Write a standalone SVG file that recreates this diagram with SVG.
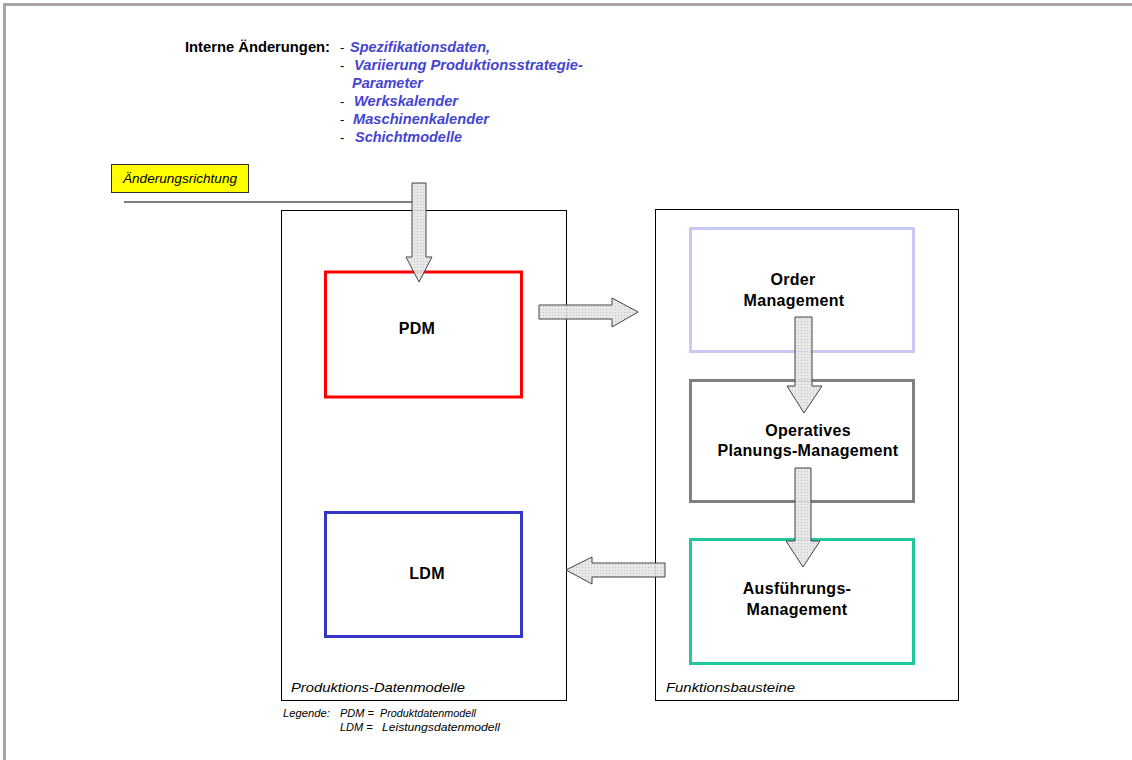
<svg xmlns="http://www.w3.org/2000/svg" width="1132" height="760" viewBox="0 0 1132 760">
<defs>
<pattern id="dots" width="3" height="3" patternUnits="userSpaceOnUse">
<rect width="3" height="3" fill="#e6e6e6"/>
<rect width="1" height="1" fill="#bcbcbc"/>
</pattern>
<style>
text{font-family:"Liberation Sans",Arial,sans-serif;}
.lbl{font-size:16px;font-weight:bold;fill:#000;text-anchor:middle;letter-spacing:0.3px;}
.it{font-style:italic;fill:#000;}
.blue{font-size:14px;font-weight:bold;font-style:italic;fill:#4545d0;}
.dash{font-size:13px;fill:#000;}
.leg{font-size:11px;font-style:italic;fill:#000;}
.arrow{fill:url(#dots);stroke:#444;stroke-width:1;fill-opacity:0.9;}
.frame{fill:none;stroke:#000;stroke-width:1;}
</style>
</defs>
<rect width="1132" height="760" fill="#fff"/>
<path d="M4.5,760 V4.5 H1132" fill="none" stroke="#a8a4a4" stroke-width="3"/>

<g id="header">
<text x="185" y="52" font-size="14" font-weight="bold" textLength="145" lengthAdjust="spacingAndGlyphs">Interne Änderungen:</text>
<text class="dash" x="340" y="52">-</text><text class="blue" x="350" y="52" textLength="140" lengthAdjust="spacingAndGlyphs">Spezifikationsdaten,</text>
<text class="dash" x="340" y="70">-</text><text class="blue" x="354" y="70" textLength="229" lengthAdjust="spacingAndGlyphs">Variierung Produktionsstrategie-</text>
<text class="blue" x="352" y="88" textLength="71" lengthAdjust="spacingAndGlyphs">Parameter</text>
<text class="dash" x="340" y="106">-</text><text class="blue" x="354" y="106" textLength="104" lengthAdjust="spacingAndGlyphs">Werkskalender</text>
<text class="dash" x="340" y="124">-</text><text class="blue" x="353" y="124" textLength="136" lengthAdjust="spacingAndGlyphs">Maschinenkalender</text>
<text class="dash" x="340" y="142">-</text><text class="blue" x="355" y="142" textLength="107" lengthAdjust="spacingAndGlyphs">Schichtmodelle</text>
</g>

<g id="aenderungsrichtung">
<rect x="111.5" y="164.5" width="137" height="28" fill="#ffff00" stroke="#333" stroke-width="1"/>
<text class="it" x="123" y="183" font-size="13" textLength="114" lengthAdjust="spacingAndGlyphs">Änderungsrichtung</text>
<line x1="124" y1="202" x2="412" y2="202" stroke="#555" stroke-width="1.5"/>
</g>

<g id="produktions-datenmodelle">
<rect class="frame" x="281.5" y="210.5" width="285" height="490"/>
<text class="it" x="291" y="692" font-size="13" textLength="174" lengthAdjust="spacingAndGlyphs">Produktions-Datenmodelle</text>
</g>

<g id="funktionsbausteine">
<rect class="frame" x="655.5" y="209.5" width="303" height="491"/>
<text class="it" x="666" y="692" font-size="13" textLength="129" lengthAdjust="spacingAndGlyphs">Funktionsbausteine</text>
</g>

<g id="pdm">
<rect x="325.5" y="272" width="196" height="125" fill="none" stroke="#ff0000" stroke-width="3"/>
<text class="lbl" x="417" y="334">PDM</text>
</g>

<g id="ldm">
<rect x="325.5" y="512.5" width="196" height="124" fill="none" stroke="#3535c8" stroke-width="3"/>
<text class="lbl" x="427" y="579">LDM</text>
</g>

<g id="order-management">
<rect x="690.5" y="228.5" width="223" height="123" fill="none" stroke="#c8c8f4" stroke-width="3"/>
<text class="lbl" x="793" y="285">Order</text>
<text class="lbl" x="794" y="306">Management</text>
</g>

<g id="operatives-planungs-management">
<rect x="690.5" y="380.5" width="223" height="121" fill="none" stroke="#808080" stroke-width="3"/>
<text class="lbl" x="808" y="436">Operatives</text>
<text class="lbl" x="808" y="456">Planungs-Management</text>
</g>

<g id="ausfuehrungs-management">
<rect x="690.5" y="539.5" width="223" height="124" fill="none" stroke="#20c8a0" stroke-width="3"/>
<text class="lbl" x="797" y="594">Ausführungs-</text>
<text class="lbl" x="797" y="615">Management</text>
</g>

<g id="connectors">
<polygon class="arrow" points="412,183 426,183 426,257 432,257 419,282 406,257 412,257"/>
<polygon class="arrow" points="539,305 612,305 612,298 638,312 612,327 612,319 539,319"/>
<polygon class="arrow" points="795,317 812,317 812,386 822,386 804,413 787,386 795,386"/>
<polygon class="arrow" points="795,468 811,468 811,541 820,541 803,567 786,541 795,541"/>
<polygon class="arrow" points="665,563 665,577 592,577 592,584 566,570 592,557 592,563"/>
</g>

<g id="legende">
<text class="leg" x="283" y="717" textLength="47" lengthAdjust="spacingAndGlyphs">Legende:</text>
<text class="leg" x="340" y="717">PDM =</text>
<text class="leg" x="380" y="717" textLength="96" lengthAdjust="spacingAndGlyphs">Produktdatenmodell</text>
<text class="leg" x="340" y="731">LDM =</text>
<text class="leg" x="382" y="731" textLength="118" lengthAdjust="spacingAndGlyphs">Leistungsdatenmodell</text>
</g>
</svg>
